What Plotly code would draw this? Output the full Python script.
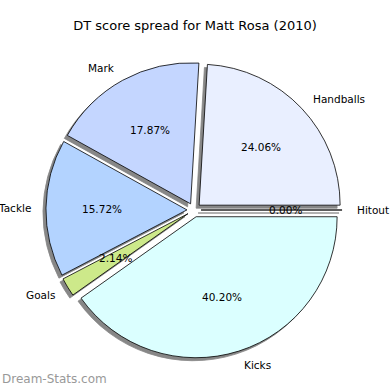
import math
import plotly.graph_objects as go

labels = ["Hitout", "Handballs", "Mark", "Tackle", "Goals", "Kicks"]
values = [0.00, 24.06, 17.87, 15.72, 2.14, 40.20]
colors = ["#ffffff", "#e9efff", "#c4d6ff", "#b3d3ff", "#cde98a", "#dbffff"]
title = "DT score spread for Matt Rosa (2010)"
watermark = "Dream-Stats.com"

W = H = 390
cx, cy, r = 194, 210, 141      # pie centre / radius in px (from top-left)
pull = 0.05
sh = 3                         # shadow offset px
pctdistance, labeldistance = 0.6, 1.1


def dom(dx=0, dy=0):
    half = r * (1 + pull)
    return dict(x=[(cx + dx - half) / W, (cx + dx + half) / W],
                y=[(H - (cy + dy) - half) / H, (H - (cy + dy) + half) / H])


fig = go.Figure()
# shadow
fig.add_trace(go.Pie(
    labels=labels, values=values, sort=False, direction="counterclockwise",
    rotation=90, pull=pull, domain=dom(-sh, sh), automargin=False,
    marker=dict(colors=["rgb(135,135,135)"] * len(values),
                line=dict(color="rgb(135,135,135)", width=0.8)),
    textinfo="none", hoverinfo="skip", showlegend=False,
))
# main wedges
fig.add_trace(go.Pie(
    labels=labels, values=values, sort=False, direction="counterclockwise",
    rotation=90, pull=pull, domain=dom(), automargin=False,
    marker=dict(colors=colors, line=dict(color="black", width=0.8)),
    textinfo="none", showlegend=False,
))

# text positions in pie units (radius = 1), matplotlib-style, placed via axes
total = sum(values)
start = 0.0
annotations = []
font = dict(family="DejaVu Sans", size=10.5, color="black")
for lab, v in zip(labels, values):
    frac = v / total
    mid = 2 * math.pi * (start + frac / 2)
    ox, oy = pull * math.cos(mid), pull * math.sin(mid)
    annotations.append(dict(
        x=ox + pctdistance * math.cos(mid), y=oy + pctdistance * math.sin(mid),
        xref="x", yref="y", text=f"{100 * frac:.2f}%", showarrow=False,
        xanchor="center", yanchor="middle", font=font, borderpad=0))
    annotations.append(dict(
        x=ox + labeldistance * math.cos(mid), y=oy + labeldistance * math.sin(mid),
        xref="x", yref="y", text=lab, showarrow=False, borderpad=0,
        xanchor="left" if math.cos(mid) >= 0 else "right", yanchor="middle", font=font))
    start += frac

annotations.append(dict(text=watermark, x=0, y=0, xref="paper", yref="paper",
                        xanchor="left", yanchor="bottom", yshift=2, showarrow=False,
                        font=dict(family="DejaVu Sans", size=12, color="#999999")))

# invisible cartesian axes in pie units for text placement
fig.add_trace(go.Scatter(x=[0], y=[0], mode="markers", marker=dict(opacity=0),
                         hoverinfo="skip", showlegend=False))

fig.update_layout(
    width=W, height=H, margin=dict(l=0, r=0, t=0, b=0, autoexpand=False),
    paper_bgcolor="white", plot_bgcolor="rgba(0,0,0,0)",
    xaxis=dict(range=[-cx / r, (W - cx) / r], visible=False, fixedrange=True),
    yaxis=dict(range=[-(H - cy) / r, cy / r], visible=False, fixedrange=True),
    title=dict(text=title, x=0.5, xanchor="center", y=1 - 25 / H, yanchor="middle",
               font=dict(family="DejaVu Sans", size=13, color="black")),
    annotations=annotations,
)
fig.write_html("out.html", config={"displayModeBar": False},
               post_script="document.body.style.margin='0px';")
